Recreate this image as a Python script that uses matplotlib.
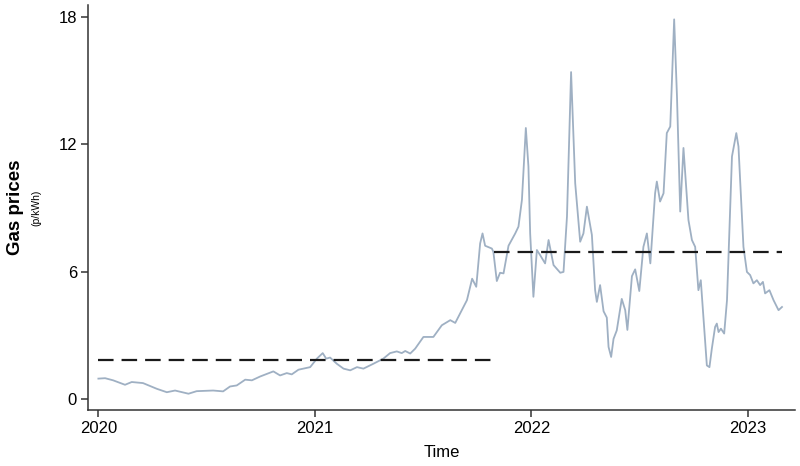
import matplotlib.pyplot as plt
import numpy as np

# decimal years
TIME = [
    2020.000, 2020.031, 2020.068, 2020.123, 2020.154, 2020.206, 2020.270, 2020.316,
    2020.354, 2020.416, 2020.454, 2020.530, 2020.576, 2020.608, 2020.639, 2020.678,
    2020.709, 2020.747, 2020.808, 2020.839, 2020.870, 2020.893, 2020.924, 2020.978,
    2021.009, 2021.036, 2021.052, 2021.070, 2021.101, 2021.132, 2021.163, 2021.194,
    2021.224, 2021.270, 2021.316, 2021.347, 2021.378, 2021.401, 2021.417, 2021.440,
    2021.463, 2021.501, 2021.547, 2021.586, 2021.625, 2021.648, 2021.702, 2021.726,
    2021.745, 2021.763, 2021.774, 2021.786, 2021.817, 2021.824, 2021.840, 2021.855,
    2021.871, 2021.894, 2021.925, 2021.940, 2021.956, 2021.974, 2021.986, 2021.994,
    2022.009, 2022.025, 2022.040, 2022.063, 2022.079, 2022.102, 2022.133, 2022.148,
    2022.164, 2022.183, 2022.202, 2022.225, 2022.240, 2022.256, 2022.279, 2022.294,
    2022.302, 2022.317, 2022.333, 2022.348, 2022.356, 2022.368, 2022.379, 2022.394,
    2022.417, 2022.433, 2022.443, 2022.464, 2022.479, 2022.498, 2022.517, 2022.533,
    2022.549, 2022.571, 2022.579, 2022.594, 2022.610, 2022.625, 2022.641, 2022.659,
    2022.672, 2022.687, 2022.702, 2022.725, 2022.741, 2022.756, 2022.771, 2022.782,
    2022.794, 2022.810, 2022.822, 2022.833, 2022.848, 2022.856, 2022.864, 2022.875,
    2022.890, 2022.903, 2022.926, 2022.946, 2022.956, 2022.979, 2022.995, 2023.010,
    2023.025, 2023.041, 2023.056, 2023.069, 2023.079, 2023.099, 2023.118, 2023.141,
    2023.157,
]
PRICE = [
    0.98, 1.00, 0.90, 0.69, 0.82, 0.77, 0.50, 0.34,
    0.42, 0.27, 0.39, 0.42, 0.38, 0.61, 0.66, 0.93,
    0.90, 1.08, 1.32, 1.13, 1.24, 1.18, 1.40, 1.52,
    1.92, 2.18, 1.92, 1.97, 1.68, 1.45, 1.37, 1.52,
    1.45, 1.68, 1.92, 2.18, 2.26, 2.18, 2.28, 2.16,
    2.39, 2.94, 2.94, 3.49, 3.73, 3.60, 4.67, 5.68,
    5.30, 7.34, 7.81, 7.23, 7.10, 6.95, 5.57, 5.96,
    5.93, 7.23, 7.81, 8.13, 9.39, 12.77, 10.96, 7.81,
    4.83, 7.03, 6.79, 6.40, 7.50, 6.32, 5.96, 6.00,
    8.60, 15.40, 10.17, 7.42, 7.81, 9.07, 7.74, 5.14,
    4.59, 5.38, 4.15, 3.85, 2.47, 2.00, 2.85, 3.25,
    4.73, 4.20, 3.27, 5.80, 6.12, 5.10, 7.18, 7.81,
    6.40, 9.70, 10.25, 9.31, 9.70, 12.53, 12.84, 17.88,
    14.26, 8.84, 11.83, 8.44, 7.50, 7.18, 5.14, 5.61,
    3.88, 1.60, 1.52, 2.39, 3.41, 3.57, 3.17, 3.33,
    3.10, 4.67, 11.43, 12.53, 11.90, 7.18, 6.00, 5.85,
    5.46, 5.61, 5.38, 5.53, 4.99, 5.14, 4.67, 4.20,
    4.35,
]

# period averages (dashed lines)
PERIOD_START = [2020.000, 2021.828]
PERIOD_END = [2021.828, 2023.157]
PERIOD_MEAN = [1.85, 6.95]

YTICKS = [0, 6, 12, 18]
XTICKS = [2020, 2021, 2022, 2023]


def main():
    plt.rcParams["font.family"] = ["Liberation Sans", "DejaVu Sans"]
    fig = plt.figure(figsize=(8, 4.66), dpi=100)
    ax = fig.add_axes([0.11, 0.12, 0.884, 0.869])

    ax.plot(TIME, PRICE, color="#9fb0c3", linewidth=1.3)
    for x0, x1, m in zip(PERIOD_START, PERIOD_END, PERIOD_MEAN):
        ax.plot([x0, x1], [m, m], color="#1a1a1a", linewidth=1.6,
                linestyle=(0, (7, 3.6)))

    ax.set_xlim(2019.952, 2023.218)
    ax.set_ylim(-0.5, 18.55)
    ax.set_xticks(XTICKS)
    ax.set_yticks(YTICKS)
    ax.set_xticklabels([str(t) for t in XTICKS])

    for s in ["top", "right"]:
        ax.spines[s].set_visible(False)
    for s in ["left", "bottom"]:
        ax.spines[s].set_color("#333333")
        ax.spines[s].set_linewidth(1.1)
    ax.tick_params(axis="both", direction="out", length=5, width=1.1,
                   color="#333333", labelsize=12, labelcolor="black", pad=3)

    ax.set_xlabel("Time", fontsize=12, labelpad=6)
    fig.text(0.019, 0.555, "Gas prices", rotation=90, fontsize=13.5,
             fontweight="bold", ha="center", va="center")
    fig.text(0.046, 0.555, "(p/kWh)", rotation=90, fontsize=7.5,
             ha="center", va="center")

    fig.savefig("out.png", dpi=100)


if __name__ == "__main__":
    main()
